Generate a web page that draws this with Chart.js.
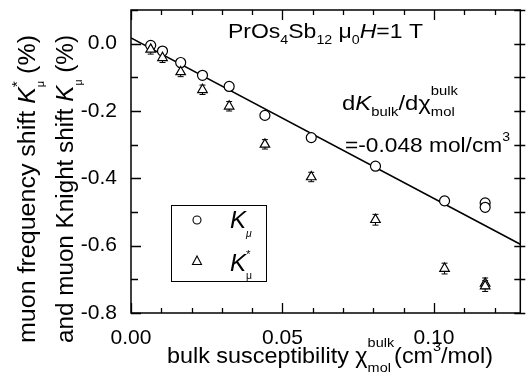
<!DOCTYPE html>
<html><head><meta charset="utf-8">
<script src="https://cdn.jsdelivr.net/npm/chart.js@4/dist/chart.umd.min.js"></script>
<style>html,body{margin:0;padding:0;background:#fff}</style>
</head><body>
<canvas id="c" width="527" height="376"></canvas>
<script>
// ---- data ----
const chiBulk      = [0.0065, 0.0104, 0.0164, 0.0236, 0.0324, 0.0442, 0.0595, 0.0807, 0.1035, 0.1169, 0.1169];
const knightShift  = [-0.005, -0.022, -0.056, -0.094, -0.127, -0.213, -0.279, -0.364, -0.467, -0.473, -0.486];
const knightErr    = [0.006, 0.006, 0.006, 0.006, 0.006, 0.007, 0.008, 0.010, 0.012, 0.012, 0.012];
const freqShift    = [-0.017, -0.042, -0.084, -0.137, -0.186, -0.299, -0.396, -0.523, -0.668, -0.712, -0.720];
const freqErr      = [0.014, 0.014, 0.014, 0.014, 0.014, 0.014, 0.014, 0.016, 0.016, 0.016, 0.016];
const fitX         = [0, 0.1285];
const fitY         = [0.017, -0.596];
const xTickLabels  = [0, 0.05, 0.10];
const yTickLabels  = [0, -0.2, -0.4, -0.6, -0.8];
const xMinorTicks  = [0.01, 0.02, 0.03, 0.04, 0.06, 0.07, 0.08, 0.09, 0.11, 0.12];
const yMinorTicks  = [0.1, -0.1, -0.3, -0.5, -0.7];

const FAM = '"Liberation Sans", Arial, Helvetica, sans-serif';

function segFont(seg, size) {
  const sz = (seg.s ? size * 0.62 : size) * (seg.k || 1);
  return (seg.it ? 'italic ' : '') + sz.toFixed(1) + 'px ' + FAM;
}
function segDy(seg, size) {
  if (seg.s === 'sub') return size * (seg.dy != null ? seg.dy : 0.32);
  if (seg.s === 'sup') return -size * (seg.dy != null ? seg.dy : 0.42);
  return 0;
}
function layoutRich(ctx, segs, size) {
  let x = 0, pend = 0; const out = [];
  for (const seg of segs) {
    ctx.font = segFont(seg, size);
    const w = ctx.measureText(seg.t).width;
    out.push({seg, x, w});
    if (seg.na) { pend = Math.max(pend, w); }
    else { x += Math.max(w, pend); pend = 0; }
  }
  return {items: out, width: x + pend};
}
function drawRich(ctx, segs, x, y, size, target, rot) {
  const L = layoutRich(ctx, segs, size);
  const sx = target ? target / L.width : 1;
  ctx.save();
  ctx.translate(x, y);
  if (rot) ctx.rotate(-Math.PI / 2);
  ctx.scale(sx, 1);
  ctx.fillStyle = '#000';
  ctx.textBaseline = 'alphabetic';
  ctx.textAlign = 'left';
  for (const it of L.items) {
    ctx.font = segFont(it.seg, size);
    ctx.fillText(it.seg.t, it.x, segDy(it.seg, size));
  }
  ctx.restore();
}

const deco = {
  id: 'deco',
  beforeDatasetsDraw(chart) {
    const ctx = chart.ctx, xs = chart.scales.x, ys = chart.scales.y;
    ctx.save();
    ctx.strokeStyle = '#000'; ctx.lineWidth = 1;
    const bars = (vals, errs) => {
      for (let i = 0; i < chiBulk.length; i++) {
        const px = xs.getPixelForValue(chiBulk[i]);
        const y1 = ys.getPixelForValue(vals[i] - errs[i]);
        const y2 = ys.getPixelForValue(vals[i] + errs[i]);
        ctx.beginPath();
        ctx.moveTo(px, y1); ctx.lineTo(px, y2);
        ctx.moveTo(px - 3, y1); ctx.lineTo(px + 3, y1);
        ctx.moveTo(px - 3, y2); ctx.lineTo(px + 3, y2);
        ctx.stroke();
      }
    };
    bars(knightShift, knightErr);
    bars(freqShift, freqErr);
    ctx.restore();
  },
  afterDraw(chart) {
    const ctx = chart.ctx, a = chart.chartArea, xs = chart.scales.x, ys = chart.scales.y;
    ctx.save();
    ctx.strokeStyle = '#000';
    ctx.lineWidth = 1.5;
    ctx.strokeRect(a.left, a.top, a.right - a.left, a.bottom - a.top);
    ctx.lineWidth = 1.3;
    ctx.beginPath();
    const xt = (v, len) => {
      const p = Math.round(xs.getPixelForValue(v)) + 0.5;
      ctx.moveTo(p, a.bottom); ctx.lineTo(p, a.bottom - len);
      ctx.moveTo(p, a.top); ctx.lineTo(p, a.top + len);
    };
    xTickLabels.forEach(v => xt(v, 10));
    xMinorTicks.forEach(v => xt(v, 5));
    const yt = (v, len) => {
      const p = Math.round(ys.getPixelForValue(v)) + 0.5;
      ctx.moveTo(a.left, p); ctx.lineTo(a.left + len, p);
      ctx.moveTo(a.right - 6, p); ctx.lineTo(a.right + 5, p);
    };
    yTickLabels.forEach(v => yt(v, 10));
    yMinorTicks.forEach(v => yt(v, 7));
    ctx.stroke();

    // legend box
    ctx.lineWidth = 1;
    ctx.strokeRect(171.5, 205.5, 95, 76);
    ctx.fillStyle = '#fff';
    ctx.lineWidth = 1.1;
    ctx.beginPath(); ctx.arc(197, 220, 4, 0, Math.PI * 2); ctx.fill(); ctx.stroke();
    ctx.beginPath(); ctx.moveTo(197, 256); ctx.lineTo(201.5, 264.5); ctx.lineTo(192.5, 264.5); ctx.closePath(); ctx.fill(); ctx.stroke();
    ctx.restore();

    drawRich(ctx, [{t:'K', it:1, k:1.15}, {t:'μ', s:'sub', it:1, dy:0.45, k:0.8}], 230, 228, 21);
    drawRich(ctx, [{t:'K', it:1, k:1.15}, {t:'*', s:'sup', na:1, dy:0.6, k:0.9}, {t:'μ', s:'sub', dy:0.4, k:0.8}], 230, 271, 21);

    // annotations
    drawRich(ctx, [{t:'PrOs'}, {t:'4', s:'sub'}, {t:'Sb'}, {t:'12', s:'sub'}, {t:' μ'}, {t:'0', s:'sub'}, {t:'H', it:1}, {t:'=1 T'}], 228, 37.5, 20, 195);
    drawRich(ctx, [{t:'d'}, {t:'K', it:1}, {t:'bulk', s:'sub'}, {t:'/d'}, {t:'χ'}, {t:'bulk', s:'sup', na:1, dy:0.75}, {t:'mol', s:'sub'}], 342, 110, 20, 116);
    drawRich(ctx, [{t:'=-0.048 mol/cm'}, {t:'3', s:'sup', dy:0.55}], 345, 152, 20.5, 165);

    // axis titles
    drawRich(ctx, [{t:'bulk susceptibility '}, {t:'χ'}, {t:'bulk', s:'sup', na:1, dy:0.75}, {t:'mol', s:'sub', dy:0.4}, {t:'(cm'}, {t:'3', s:'sup', dy:0.55}, {t:'/mol)'}], 167, 363, 22, 326);
    drawRich(ctx, [{t:'muon frequency shift '}, {t:'K', it:1}, {t:'*', s:'sup', na:1, dy:0.55}, {t:'μ', s:'sub', dy:0.4, k:0.7}, {t:' (%)'}], 35, 343, 23, 308, true);
    drawRich(ctx, [{t:'and muon Knight shift '}, {t:'K', it:1}, {t:'μ', s:'sub', dy:0.4, k:0.7}, {t:' (%)'}], 73, 343, 23, 308, true);
  }
};

const tickFont = {family: FAM, size: 21};
new Chart(document.getElementById('c'), {
  type: 'scatter',
  data: {
    datasets: [
      {
        type: 'line', label: 'fit', order: 5,
        data: fitX.map((x, i) => ({x, y: fitY[i]})),
        borderColor: '#000', borderWidth: 1.6, pointRadius: 0, fill: false, tension: 0
      },
      {
        label: 'K_mu', order: 2,
        data: chiBulk.map((x, i) => ({x, y: knightShift[i]})),
        pointStyle: 'circle', pointRadius: 5, borderWidth: 1.2,
        borderColor: '#000', backgroundColor: '#fff'
      },
      {
        label: 'K_mu*', order: 1,
        data: chiBulk.map((x, i) => ({x, y: freqShift[i]})),
        pointStyle: 'triangle', pointRadius: 5.5, borderWidth: 1.2,
        borderColor: '#000', backgroundColor: '#fff'
      }
    ]
  },
  options: {
    responsive: false, animation: false, devicePixelRatio: 1,
    layout: {padding: {top: 10, right: 5, left: 0, bottom: 0}},
    plugins: {legend: {display: false}, tooltip: {enabled: false}},
    scales: {
      x: {
        type: 'linear', min: 0, max: 0.1285,
        afterBuildTicks: s => { s.ticks = xTickLabels.map(v => ({value: v})); },
        afterFit: s => { s.height = 63; s.paddingLeft = 0; s.paddingRight = 0; },
        ticks: {font: tickFont, color: '#000', padding: 13, maxRotation: 0, autoSkip: false,
                callback: v => v.toFixed(2)},
        grid: {display: false, drawTicks: false}, border: {display: false}
      },
      y: {
        type: 'linear', min: -0.8, max: 0.1,
        afterBuildTicks: s => { s.ticks = yTickLabels.map(v => ({value: v})); },
        afterFit: s => { s.width = 131; s.paddingTop = 0; s.paddingBottom = 0; },
        ticks: {font: tickFont, color: '#000', padding: 14, autoSkip: false,
                callback: v => (Math.abs(v) < 1e-9 ? 0 : v).toFixed(1)},
        grid: {display: false, drawTicks: false}, border: {display: false}
      }
    }
  },
  plugins: [deco]
});
</script>
</body></html>
